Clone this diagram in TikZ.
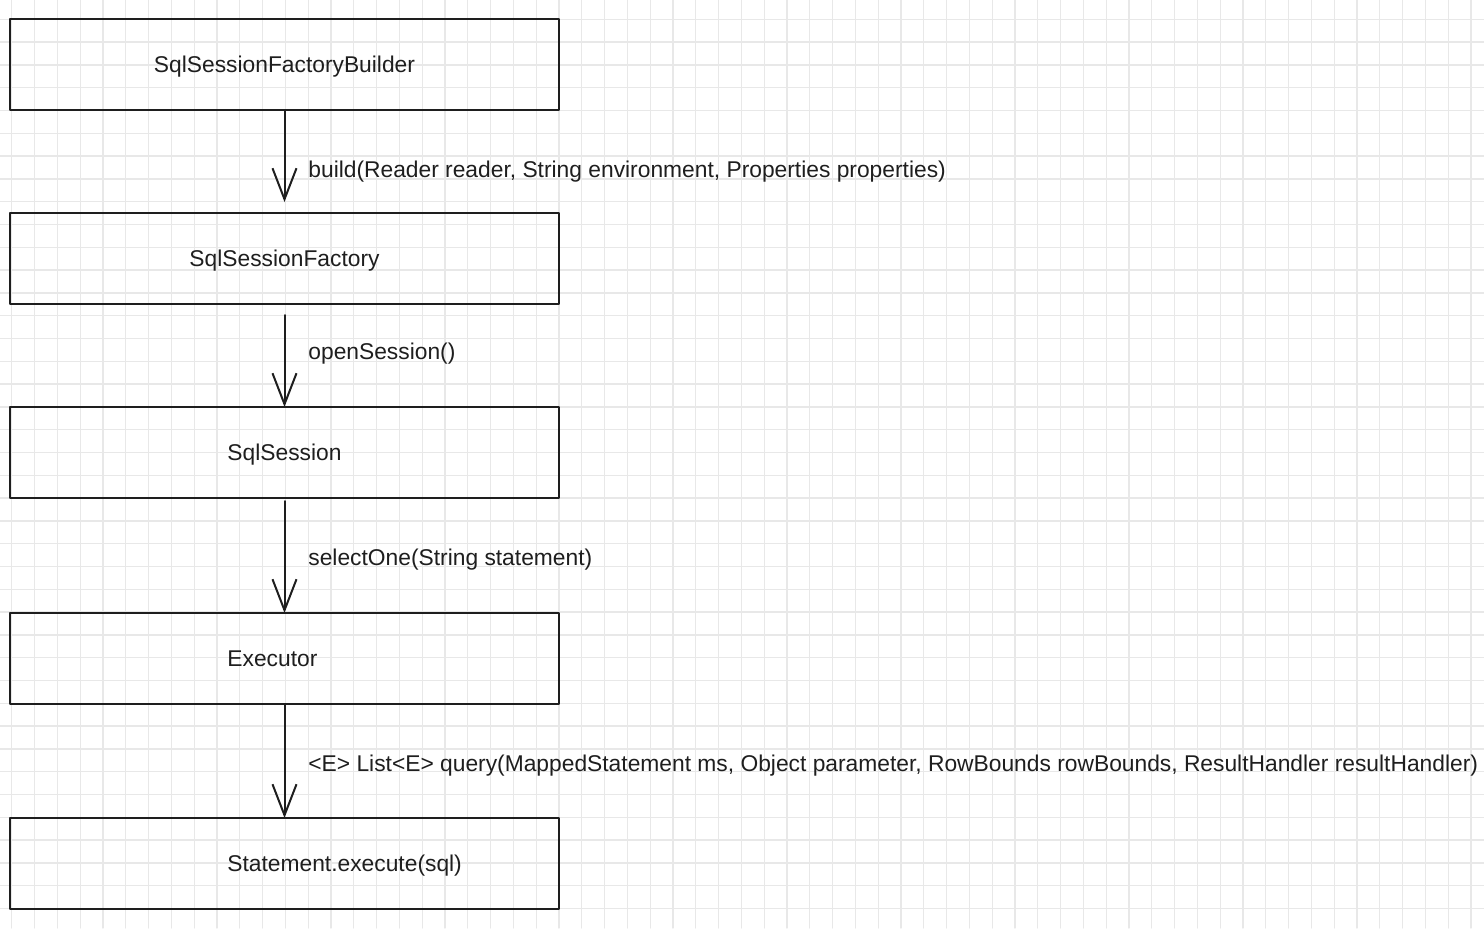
\documentclass[tikz,border=0pt]{standalone}
\usepackage{fontspec}
\setmainfont{Liberation Sans}
\usetikzlibrary{arrows.meta}
\definecolor{gridgray}{RGB}{232,232,232}
\definecolor{inkgray}{RGB}{30,30,30}
\tikzset{
  gridline/.style={line width=0.65pt, gridgray},
  classbox/.style={draw=inkgray, line width=1pt, minimum width=274.5pt, minimum height=45.5pt, inner sep=0pt, outer sep=0pt},
  txt/.style={inner sep=0pt, text=inkgray, font=\fontsize{11.4pt}{13.7pt}\selectfont, text height=0.73em, text depth=0.21em},
  flow/.style={draw=inkgray, line width=1pt, -{Straight Barb[length=15.5pt, width=12pt, line width=1pt]}},
}
\begin{document}
\begin{tikzpicture}[line cap=round,line join=round, x=0.5pt, y=-0.5pt]
			\useasboundingbox (0,0) rectangle (1484,928);
			% background grid
			\foreach \i in {0,...,64}
				\draw[gridline] ({11.8+22.8*\i},0) -- ({11.8+22.8*\i},928);
			\foreach \j in {0,...,39}
				\draw[gridline] (0,{19.3+22.8*\j}) -- (1484,{19.3+22.8*\j});
			% boxes
			\node[classbox] (builder) at (284.5,64.5) {};
			\node[classbox] (factory) at (284.5,258.5) {};
			\node[classbox] (session) at (284.5,452.5) {};
			\node[classbox] (executor) at (284.5,658.5) {};
			\node[classbox] (statement) at (284.5,863.5) {};
			\node[txt] (builderlbl) at (284.5,67.5) {SqlSessionFactoryBuilder};
			\node[txt] (factorylbl) at (284.5,261.5) {SqlSessionFactory};
			\node[txt] (sessionlbl) at (284.5,455.5) {SqlSession};
			\node[txt, anchor=west] (executorlbl) at (227,661.5) {Executor};
			\node[txt, anchor=west] (statementlbl) at (227,866.5) {Statement.execute(sql)};
			% calls
			\draw[flow, shorten >=5.5pt] (builder.south) -- (factory.north);
			\draw[flow, shorten <=5.5pt] (factory.south) -- (session.north);
			\draw[flow, shorten <=1.5pt] (session.south) -- (executor.north);
			\draw[flow] (executor.south) -- (statement.north);
			\node[txt, anchor=west] (buildlbl) at (308,172) {build(Reader reader, String environment, Properties properties)};
			\node[txt, anchor=west] (openlbl) at (308,354) {openSession()};
			\node[txt, anchor=west] (selectlbl) at (308,560) {selectOne(String statement)};
			\node[txt, anchor=west] (querylbl) at (308,766) {<E> List<E> query(MappedStatement ms, Object parameter, RowBounds rowBounds, ResultHandler resultHandler)};
\end{tikzpicture}
\end{document}
